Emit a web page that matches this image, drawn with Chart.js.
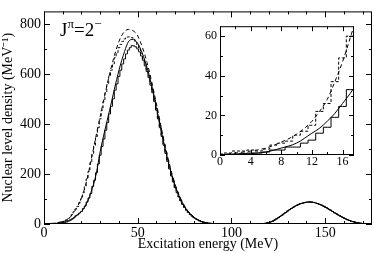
<!DOCTYPE html>
<html>
<head>
<meta charset="utf-8">
<script src="https://cdn.jsdelivr.net/npm/chart.js@4"></script>
<style>
  html, body { margin:0; padding:0; background:#fff; }
  #wrap  { position:relative; width:374px; height:253px; }
  #main  { position:absolute; left:0; top:0; }
  #inset { position:absolute; left:196px; top:16px; }
  #jpi   { position:absolute; left:60px; top:20px; font:19px "Liberation Serif"; line-height:19px; white-space:nowrap; }
  #jpi span { position:relative; font-size:13px; top:-8px; }
</style>
</head>
<body>
<div id="wrap">
  <canvas id="main" width="374" height="253"></canvas>
  <canvas id="inset" width="164" height="160"></canvas>
  <div id="jpi">J<span>π</span>=2<span>−</span></div>
</div>
<script>
// smooth curves (MeV / MeV^-1)
var curveE     = [0,2,4,6,8,10,12,13,14,15,16,17,18,20,22,25,28,30,35,40,43,45,47,50,55,60,65,70,75,80,85,90,95,100,110,115,120,125,130,135,140,142,145,150,155,160,165,170,175];
var solidCurve = [0,0.3,0.7,1.5,3.5,6,11,13.5,17,21,26,31,37,50,72,125,205,290,455,615,690,728,738,722,625,465,288,152,70,27,8,2,0.3,0,0,0.5,6,25,52,75,87,88,84,68,45,24,9,2,0];
var dashCurve  = [0,1,2,3.5,6.5,10.5,17,22,28,37,47,59,72,105,150,250,360,430,600,730,770,778,775,752,645,480,300,158,72,28,8,2,0.3,0,0,0.5,6,25,52,75,87,88,84,68,45,24,9,2,0];

// 1 MeV histograms, bins centred on 0..95
var solidHist = [0,0.3,0.5,0.8,1,1,1.5,2.5,2.5,4,
  4,6,7.5,11,14,19,24.5,33,37,44,
  50,62,72,88,104,122,150,175,205,240,
  275,310,340,375,405,440,470,500,535,560,
  590,615,640,660,680,695,705,713,712,708,
  700,688,672,655,632,610,585,555,525,490,
  455,420,385,350,315,282,250,220,192,168,
  145,125,108,92,78,66,55,46,38,31,
  25,20,16,12,9,7,5,4,3,2,
  1.5,1,0.7,0.5,0.3,0.2];
var dashHist = [0.5,1,2,2,2.5,2,3,5,6,7,
  10,12,15,22,26,37,49,60,70,85,
  100,125,150,180,210,245,280,315,350,385,
  420,455,490,525,558,590,615,640,665,685,
  705,718,730,740,746,748,748,745,738,728,
  715,700,682,662,640,618,592,562,530,496,
  462,425,390,355,320,288,255,225,197,172,
  148,128,110,94,80,67,56,47,39,32,
  26,21,16,13,10,7,5,4,3,2,
  1.5,1,0.7,0.5,0.3,0.2];
// second bump, bins 110..175, both histograms sit on top of each other here
var bumpStart = 110;
var bumpHist = [0,0,0,0.1,0.3,0.5,1,1.5,2.5,4,
  6,8,11,15,20,25,30,35,41,46,
  52,57,62,67,71,75,79,82,84,86,
  87,88,88,87,86,84,82,79,76,72,
  68,64,59,55,50,45,41,36,32,28,
  24,20,17,14,11,9,7,5,4,3,
  2,1.5,1,0.5,0.3,0];

var mainXTicks  = [0,50,100,150];
var mainYTicks  = [0,200,400,600,800];
var insetXTicks = [0,4,8,12,16];
var insetYTicks = [0,20,40,60];

var SERIF = "Liberation Serif";

function pairs(xs, ys) {
  var out = [];
  for (var i = 0; i < xs.length; i++) out.push({x: xs[i], y: ys[i]});
  return out;
}

function histPts(low) {
  var out = [];
  for (var e = 0; e <= 175; e++) {
    var v = 0;
    if (e < low.length) v = low[e];
    else if (e >= bumpStart) v = bumpHist[e - bumpStart];
    out.push({x: e, y: v});
  }
  return out;
}

function datasets() {
  return [
    { data: pairs(curveE, dashCurve),  borderDash: [4,3], cubicInterpolationMode: "monotone" },
    { data: histPts(dashHist),         borderDash: [3,2], stepped: "middle" },
    { data: pairs(curveE, solidCurve), cubicInterpolationMode: "monotone" },
    { data: histPts(solidHist),        stepped: "middle" }
  ].map(function(d) {
    d.borderColor = "#000";
    d.borderWidth = 1;
    d.pointRadius = 0;
    d.fill = false;
    return d;
  });
}

// grace-style frame with inward ticks on all four sides
var frameTicks = {
  id: "frameTicks",
  afterDraw: function(chart) {
    var o = chart.options.plugins.frameTicks;
    var a = chart.chartArea, ctx = chart.ctx;
    var xs = chart.scales.x, ys = chart.scales.y;
    ctx.save();
    ctx.strokeStyle = "#000";
    ctx.lineWidth = 1;
    ctx.strokeRect(a.left + .5, a.top + .5, a.right - a.left - 1, a.bottom - a.top - 1);
    ctx.beginPath();
    for (var v = xs.min; v <= xs.max + 1e-9; v += o.xMinor) {
      var len = (Math.abs(v % o.xMajor) < 1e-9) ? o.major : o.minor;
      var px = Math.round(xs.getPixelForValue(v)) + .5;
      ctx.moveTo(px, a.bottom); ctx.lineTo(px, a.bottom - len);
      ctx.moveTo(px, a.top);    ctx.lineTo(px, a.top + len);
    }
    for (var w = ys.min; w <= ys.max + 1e-9; w += o.yMinor) {
      var l2 = (Math.abs(w % o.yMajor) < 1e-9) ? o.major : o.minor;
      var py = Math.round(ys.getPixelForValue(w)) + .5;
      ctx.moveTo(a.left, py);  ctx.lineTo(a.left + l2, py);
      ctx.moveTo(a.right, py); ctx.lineTo(a.right - l2, py);
    }
    ctx.stroke();
    ctx.restore();
  }
};

function axis(min, max, ticks, size, fitKey, fitVal, pad, title) {
  return {
    type: "linear", min: min, max: max,
    afterBuildTicks: function(s) { s.ticks = ticks.map(function(v) { return {value: v}; }); },
    afterFit: function(s) { s[fitKey] = fitVal; },
    grid: { display: false, drawTicks: false },
    border: { display: false },
    ticks: { color: "#000", font: { family: SERIF, size: size }, padding: pad, maxRotation: 0, autoSkip: false },
    title: title ? { display: true, text: title, color: "#000", font: { family: SERIF, size: size }, padding: 0 } : { display: false }
  };
}

function mkChart(id, cfg) {
  return new Chart(document.getElementById(id), {
    type: "line",
    data: { datasets: datasets() },
    options: {
      responsive: false,
      animation: false,
      events: [],
      layout: { padding: cfg.padding },
      plugins: { legend: { display: false }, tooltip: { enabled: false }, frameTicks: cfg.ticks },
      scales: { x: cfg.x, y: cfg.y }
    },
    plugins: [frameTicks]
  });
}

mkChart("main", {
  padding: { top: 1, right: 2, left: 0, bottom: 0 },
  x: axis(0, 175, mainXTicks, 14, "height", 29, 1, "Excitation energy (MeV)"),
  y: axis(0, 850, mainYTicks, 14, "width", 44, 3, "Nuclear level density (MeV⁻¹)"),
  ticks: { xMajor: 50, xMinor: 10, yMajor: 200, yMinor: 100, major: 6, minor: 3 }
});

mkChart("inset", {
  padding: { top: 7, right: 6, left: 0, bottom: 0 },
  x: axis(0, 17.5, insetXTicks, 12, "height", 21, 0, null),
  y: axis(0, 65, insetYTicks, 12, "width", 24, 3, null),
  ticks: { xMajor: 4, xMinor: 2, yMajor: 20, yMinor: 10, major: 5, minor: 3 }
});
</script>
</body>
</html>
